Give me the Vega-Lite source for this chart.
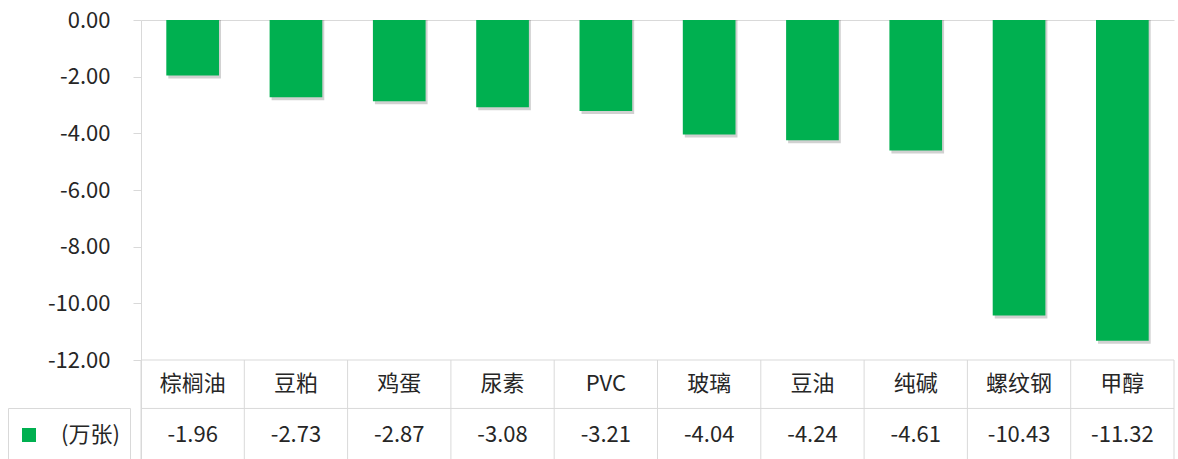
{
  "$schema": "https://vega.github.io/schema/vega-lite/v6.json",
  "width": 1033,
  "height": 439,
  "autosize": {"type": "none"},
  "padding": {"left": 141, "top": 20, "right": 4, "bottom": 0},
  "background": "white",
  "config": {
    "font": "Noto Sans CJK SC",
    "view": {"stroke": null},
    "locale": {"number": {"decimal": ".", "thousands": ",", "grouping": [3], "currency": ["", ""], "minus": "-"}}
  },
  "data": {
    "values": [
      {"cat": "棕榈油", "value": -1.96, "series": "(万张)"},
      {"cat": "豆粕", "value": -2.73, "series": "(万张)"},
      {"cat": "鸡蛋", "value": -2.87, "series": "(万张)"},
      {"cat": "尿素", "value": -3.08, "series": "(万张)"},
      {"cat": "PVC", "value": -3.21, "series": "(万张)"},
      {"cat": "玻璃", "value": -4.04, "series": "(万张)"},
      {"cat": "豆油", "value": -4.24, "series": "(万张)"},
      {"cat": "纯碱", "value": -4.61, "series": "(万张)"},
      {"cat": "螺纹钢", "value": -10.43, "series": "(万张)"},
      {"cat": "甲醇", "value": -11.32, "series": "(万张)"}
    ]
  },
  "layer": [
    {
      "mark": {"type": "bar", "color": "#000000", "opacity": 0.18, "xOffset": 2, "yOffset": 3, "width": {"band": 0.51}},
      "encoding": {
        "x": {"field": "cat", "type": "nominal", "sort": null, "scale": {"paddingInner": 0, "paddingOuter": 0}},
        "y": {"field": "value", "type": "quantitative"},
        "y2": {"datum": 0}
      }
    },
    {
      "mark": {"type": "bar", "width": {"band": 0.51}},
      "encoding": {
        "x": {
          "field": "cat", "type": "nominal", "sort": null,
          "scale": {"paddingInner": 0, "paddingOuter": 0},
          "axis": {"orient": "top", "labels": false, "ticks": false, "domain": true, "domainColor": "#d9d9d9", "grid": false, "title": null}
        },
        "y": {
          "field": "value", "type": "quantitative",
          "scale": {"domain": [-15.494, 0], "nice": false, "zero": false},
          "axis": {
            "values": [0, -2, -4, -6, -8, -10, -12], "format": ".2f", "tickSize": 8, "tickColor": "#d9d9d9",
            "domainColor": "#d9d9d9", "labelPadding": 23, "labelFontSize": 22, "labelColor": "#262626",
            "grid": false, "title": null
          }
        },
        "y2": {"datum": 0},
        "color": {
          "field": "series", "type": "nominal",
          "scale": {"range": ["#00B050"]},
          "legend": {
            "orient": "none", "legendX": -133, "legendY": 388, "title": null,
            "symbolType": "square", "symbolSize": 196, "symbolStrokeWidth": 0,
            "labelFontSize": 22, "labelColor": "#262626", "labelOffset": 21,
            "labelExpr": "datum.label + '\u00a0\u00a0\u00a0'",
            "padding": 10, "clipHeight": 34, "strokeColor": "#d9d9d9"
          }
        }
      }
    },
    {
      "data": {"values": [{}]},
      "mark": {"type": "rule", "color": "#d9d9d9"},
      "encoding": {"y": {"datum": -12}}
    },
    {
      "data": {"values": [{}]},
      "mark": {"type": "rule", "color": "#d9d9d9"},
      "encoding": {"y": {"datum": -13.71}}
    },
    {
      "mark": {"type": "rule", "color": "#d9d9d9"},
      "encoding": {
        "x": {"field": "cat", "type": "nominal", "sort": null, "bandPosition": 0},
        "y": {"datum": -12},
        "y2": {"datum": -15.494}
      }
    },
    {
      "transform": [{"filter": "datum.cat === '甲醇'"}],
      "mark": {"type": "rule", "color": "#d9d9d9"},
      "encoding": {
        "x": {"field": "cat", "type": "nominal", "sort": null, "bandPosition": 1},
        "y": {"datum": -12},
        "y2": {"datum": -15.494}
      }
    },
    {
      "mark": {"type": "text", "fontSize": 22, "color": "#262626", "baseline": "middle"},
      "encoding": {
        "x": {"field": "cat", "type": "nominal", "sort": null},
        "y": {"datum": -12.85},
        "text": {"field": "cat"}
      }
    },
    {
      "mark": {"type": "text", "fontSize": 22, "color": "#262626", "baseline": "middle"},
      "encoding": {
        "x": {"field": "cat", "type": "nominal", "sort": null},
        "y": {"datum": -14.65},
        "text": {"field": "value", "format": ".2f"}
      }
    }
  ]
}
